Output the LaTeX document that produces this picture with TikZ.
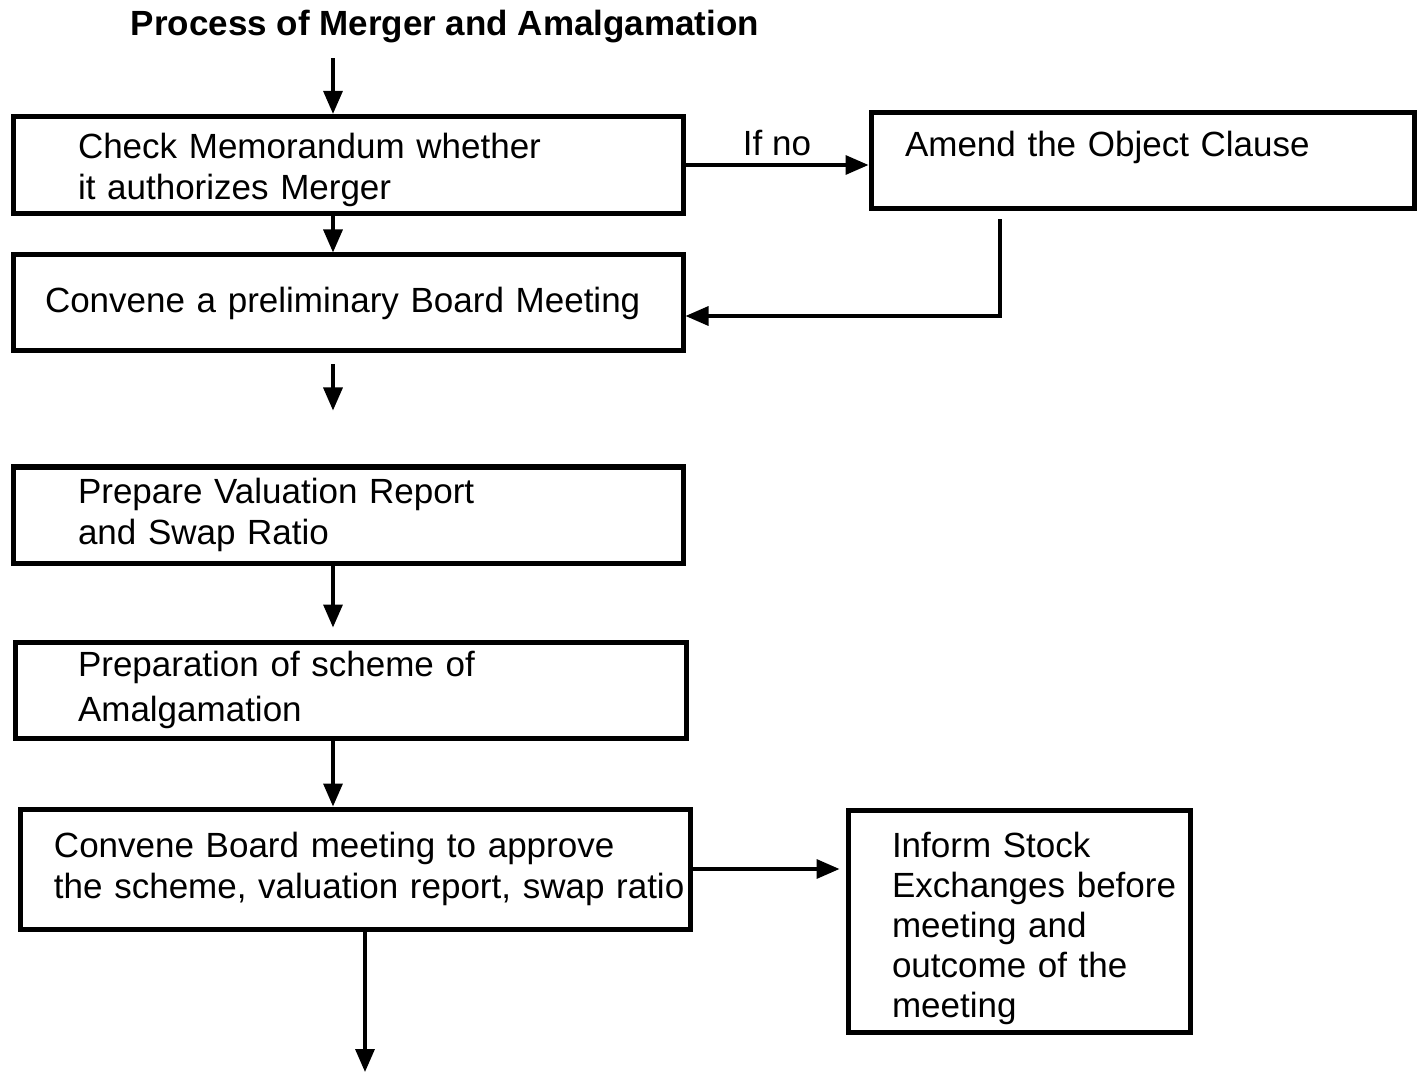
\documentclass[tikz,border=0pt]{standalone}
\usepackage{fontspec}
\setmainfont{Liberation Sans}
\usetikzlibrary{arrows.meta,calc}
\begin{document}
\begin{tikzpicture}[x=0.5pt,y=-0.5pt,
  box/.style={draw=black, line width=2.5pt, rectangle, align=left,
    font=\fontsize{17.5}{20.5}\selectfont},
  arr/.style={line width=1.7pt, -{Triangle[length=11.5pt,width=9.5pt]}}]
\useasboundingbox (0,0) rectangle (1417,1074);
\node[font=\bfseries\fontsize{17.5}{20}\selectfont] (title) at (445,27) {Process of Merger and Amalgamation};

\node[box, minimum width=335pt, minimum height=48pt, inner xsep=32.5pt, text width=270pt] (b1) at (348,165)
  {\mbox{}\\[-2.7pt]Check Memorandum whether\\it authorizes Merger};
\node[box, minimum width=271.5pt, minimum height=48pt, inner xsep=17pt, text width=237.5pt] (amend) at (1142.5,161)
  {Amend the Object Clause\\[-9pt]\strut};
\node[box, minimum width=335pt, minimum height=48pt, inner xsep=16pt, text width=303pt] (b3) at (348,303)
  {Convene a preliminary Board Meeting};
\node[box, minimum width=335pt, minimum height=48pt, inner xsep=32.5pt, text width=270pt] (b4) at (348,515)
  {Prepare Valuation Report\\and Swap Ratio};
\node[box, minimum width=335.5pt, minimum height=48pt, inner xsep=31.5pt, text width=272.5pt] (b5) at (350.5,690)
  {Preparation of scheme of\\[2pt]Amalgamation};
\node[box, minimum width=335pt, minimum height=60pt, inner xsep=17pt, text width=301pt] (b6) at (355,869)
  {\mbox{Convene Board meeting to approve}\\\mbox{the scheme, valuation report, swap ratio}};
\node[box, minimum width=171pt, minimum height=111pt, inner xsep=22pt, text width=127pt] (inf) at (1019,921)
  {\mbox{}\\[-0.7pt]Inform Stock\\[-0.5pt]\mbox{Exchanges before}\\[-0.5pt]meeting and\\[-0.5pt]outcome of the\\[-0.5pt]meeting};

\coordinate (ax) at (333,0);
\coordinate (bx) at (365,0);
\coordinate (c1) at (1000,316);
\coordinate (endb) at (365,1072);

\draw[arr, shorten <=4pt] (title.south -| ax) -- (b1.north -| ax);
\draw[arr] (b1.south -| ax) -- (b3.north -| ax);
\draw[arr] (b1.east) -- node[above=0.5pt, font=\fontsize{17.5}{20}\selectfont] {If no} (b1.east -| amend.west);
\draw[arr, shorten <=4pt] (amend.south -| c1) |- (c1 -| b3.east);
\draw[arr, shorten <=5.5pt, shorten >=27pt] (b3.south -| ax) -- (b4.north -| ax);
\draw[arr, shorten >=6pt] (b4.south -| ax) -- (b5.north -| ax);
\draw[arr] (b5.south -| ax) -- (b6.north -| ax);
\draw[arr, shorten >=3pt] (b6.east) -- (b6.east -| inf.west);
\draw[arr] (b6.south -| bx) -- (endb);
\end{tikzpicture}
\end{document}
